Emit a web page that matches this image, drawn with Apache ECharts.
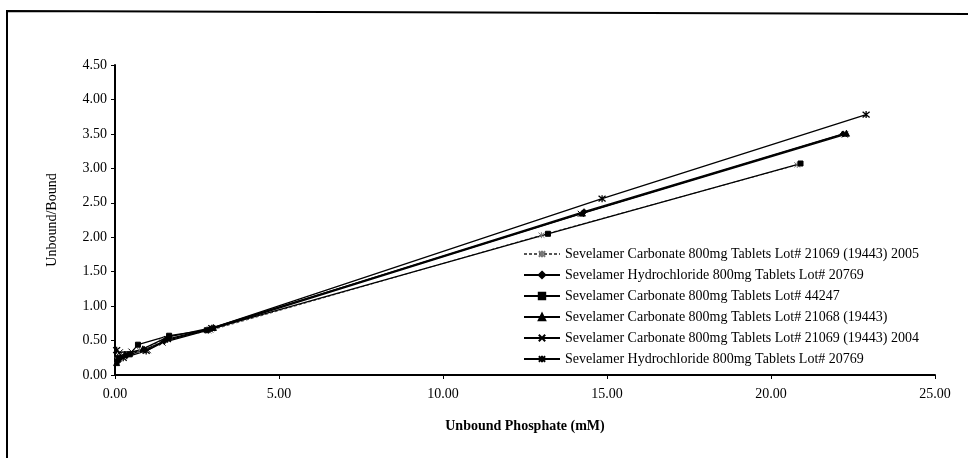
<!DOCTYPE html>
<html>
<head>
<meta charset="utf-8">
<title>Unbound/Bound vs Unbound Phosphate</title>
<script src="https://cdn.jsdelivr.net/npm/echarts@6/dist/echarts.min.js"></script>
<style>
  html, body { margin: 0; padding: 0; background: #fff; }
  #chart { width: 968px; height: 458px; }
</style>
</head>
<body>
<div id="chart"></div>
<script>
  // series data: [unbound phosphate (mM), unbound/bound]
  var carb21069_2005 = [[0.08, 0.22], [0.3, 0.27], [0.75, 0.36], [1.55, 0.52], [2.85, 0.64], [13.0, 2.03], [20.8, 3.05]]
  var hcl20769a = [[0.1, 0.2], [0.35, 0.28], [0.9, 0.37], [1.5, 0.49], [2.9, 0.67], [14.3, 2.37], [22.2, 3.5]]
  var carb44247 = [[0.12, 0.25], [0.45, 0.3], [0.7, 0.44], [1.65, 0.57], [2.8, 0.65], [13.2, 2.05], [20.9, 3.07]]
  var carb21068 = [[0.05, 0.18], [0.3, 0.3], [0.85, 0.38], [1.6, 0.55], [3.0, 0.69], [14.25, 2.35], [22.3, 3.51]]
  var carb21069_2004 = [[0.15, 0.33], [0.5, 0.34], [1.0, 0.36], [1.45, 0.47], [2.9, 0.66], [14.2, 2.34], [22.25, 3.49]]
  var hcl20769b = [[0.05, 0.36], [0.25, 0.25], [0.95, 0.35], [1.6, 0.52], [2.95, 0.68], [14.85, 2.56], [22.9, 3.78]]

  var seriesNames = [
    'Sevelamer Carbonate 800mg Tablets Lot# 21069 (19443) 2005',
    'Sevelamer Hydrochloride 800mg Tablets Lot# 20769',
    'Sevelamer Carbonate 800mg Tablets Lot# 44247',
    'Sevelamer Carbonate 800mg Tablets Lot# 21068 (19443)',
    'Sevelamer Carbonate 800mg Tablets Lot# 21069 (19443) 2004',
    'Sevelamer Hydrochloride 800mg Tablets Lot# 20769 '
  ]

  var xTicks = { min: 0, max: 25, interval: 5 }
  var yTicks = { min: 0, max: 4.5, interval: 0.5 }

  var starPath = 'path://M0,0L10,10M10,0L0,10M5,-1L5,11'
  var crossPath = 'path://M0,0L10,10M10,0L0,10'
  var serif = '"Liberation Serif", "DejaVu Serif", serif'

  var chart = echarts.init(document.getElementById('chart'))

  var makeLine = function (name, data, symbol, opts) {
    return Object.assign({
      name: name,
      type: 'line',
      data: data,
      symbol: symbol,
      symbolSize: 6,
      lineStyle: { color: '#000', width: 1.3 },
      itemStyle: { color: '#000', borderColor: '#000', borderWidth: 1 },
      animation: false
    }, opts || {})
  }

  chart.setOption({
    animation: false,
    backgroundColor: '#fff',
    grid: {
      left: 115,
      right: 33,
      top: 65,
      bottom: 83
    },
    graphic: [
      {
        type: 'polyline',
        shape: { points: [[7, 458], [7, 11], [968, 14]] },
        style: { stroke: '#000', lineWidth: 2, fill: null },
        silent: true
      }
    ],
    legend: {
      orient: 'vertical',
      left: 518,
      top: 242,
      itemGap: 7,
      itemWidth: 36,
      itemHeight: 8,
      data: seriesNames,
      textStyle: { fontFamily: serif, fontSize: 14, color: '#000' }
    },
    xAxis: {
      type: 'value',
      min: xTicks.min,
      max: xTicks.max,
      interval: xTicks.interval,
      name: 'Unbound Phosphate (mM)',
      nameLocation: 'middle',
      nameGap: 44,
      nameTextStyle: { fontFamily: serif, fontSize: 14, fontWeight: 'bold', color: '#000' },
      axisLine: { show: true, lineStyle: { color: '#000', width: 2 } },
      axisTick: { show: true, length: 4, lineStyle: { color: '#000' } },
      axisLabel: {
        margin: 12,
        fontFamily: serif,
        fontSize: 14,
        color: '#000',
        formatter: function (v) { return v.toFixed(2) }
      },
      splitLine: { show: false }
    },
    yAxis: {
      type: 'value',
      min: yTicks.min,
      max: yTicks.max,
      interval: yTicks.interval,
      name: 'Unbound/Bound',
      nameLocation: 'middle',
      nameGap: 56,
      nameTextStyle: { fontFamily: serif, fontSize: 14, color: '#000' },
      axisLine: { show: true, lineStyle: { color: '#000', width: 2 } },
      axisTick: { show: true, length: 4, lineStyle: { color: '#000' } },
      axisLabel: {
        margin: 8,
        fontFamily: serif,
        fontSize: 14,
        color: '#000',
        formatter: function (v) { return v.toFixed(2) }
      },
      splitLine: { show: false }
    },
    series: [
      makeLine(seriesNames[0], carb21069_2005, starPath, {
        lineStyle: { color: '#555', width: 1, type: [3, 2] },
        itemStyle: { color: 'none', borderColor: '#777', borderWidth: 1 }
      }),
      makeLine(seriesNames[1], hcl20769a, 'diamond'),
      makeLine(seriesNames[2], carb44247, 'rect', { symbolSize: 5 }),
      makeLine(seriesNames[3], carb21068, 'triangle'),
      makeLine(seriesNames[4], carb21069_2004, crossPath, {
        itemStyle: { color: 'none', borderColor: '#000', borderWidth: 1 }
      }),
      makeLine(seriesNames[5], hcl20769b, starPath, {
        symbolSize: 7,
        itemStyle: { color: 'none', borderColor: '#000', borderWidth: 1.3 }
      })
    ]
  })
</script>
</body>
</html>
